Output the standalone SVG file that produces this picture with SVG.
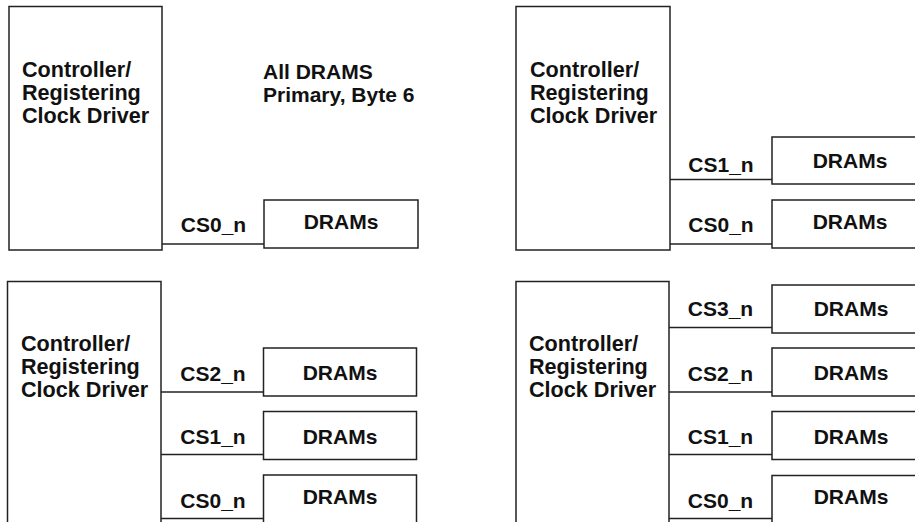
<svg xmlns="http://www.w3.org/2000/svg" width="915" height="522" viewBox="0 0 915 522">
<style>
rect{fill:#fff;stroke:#222;stroke-width:1.5}
line{stroke:#222;stroke-width:1.5}
text{font-family:"Liberation Sans",Arial,sans-serif;font-weight:bold;font-size:21px;fill:#111}
.m{text-anchor:middle}
.c{font-size:21.6px}
</style>
<rect x="0" y="0" width="915" height="522" style="stroke:none"/>
<g id="connectors">
<line x1="162" y1="244" x2="265" y2="244"/>
<line x1="670" y1="179.5" x2="773" y2="179.5"/>
<line x1="670" y1="244" x2="773" y2="244"/>
<line x1="161" y1="392" x2="264.5" y2="392"/>
<line x1="161" y1="454.5" x2="264.5" y2="454.5"/>
<line x1="161" y1="518.5" x2="264.5" y2="518.5"/>
<line x1="669" y1="327.5" x2="773" y2="327.5"/>
<line x1="669" y1="392" x2="773" y2="392"/>
<line x1="669" y1="454.5" x2="773" y2="454.5"/>
<line x1="669" y1="518.5" x2="773" y2="518.5"/>
</g>
<g id="labels">
<text x="263" y="79">All DRAMS</text>
<text x="263" y="102">Primary, Byte 6</text>
<text class="m" x="213.5" y="232">CS0_n</text>
<text class="m" x="721" y="172">CS1_n</text>
<text class="m" x="721" y="232">CS0_n</text>
<text class="m" x="213" y="381">CS2_n</text>
<text class="m" x="213" y="443.5">CS1_n</text>
<text class="m" x="213" y="507.5">CS0_n</text>
<text class="m" x="720.5" y="316">CS3_n</text>
<text class="m" x="720.5" y="381">CS2_n</text>
<text class="m" x="720.5" y="443.5">CS1_n</text>
<text class="m" x="720.5" y="507.5">CS0_n</text>
</g>
<g id="ctrl-a">
<rect x="9" y="6.5" width="153" height="243.5"/>
<text class="c" x="22" y="77">Controller/</text>
<text class="c" x="22" y="100">Registering</text>
<text class="c" x="22" y="123">Clock Driver</text>
</g>
<g id="ctrl-b">
<rect x="516" y="6.5" width="154" height="243.5"/>
<text class="c" x="530" y="77">Controller/</text>
<text class="c" x="530" y="100">Registering</text>
<text class="c" x="530" y="123">Clock Driver</text>
</g>
<g id="ctrl-c">
<rect x="7.5" y="281.5" width="153.5" height="260"/>
<text class="c" x="21" y="351">Controller/</text>
<text class="c" x="21" y="374">Registering</text>
<text class="c" x="21" y="397">Clock Driver</text>
</g>
<g id="ctrl-d">
<rect x="516" y="281.5" width="153" height="260"/>
<text class="c" x="529" y="351">Controller/</text>
<text class="c" x="529" y="374">Registering</text>
<text class="c" x="529" y="397">Clock Driver</text>
</g>
<g id="dram-a0"><rect x="264" y="200" width="154" height="48"/><text class="m" x="341" y="229">DRAMs</text></g>
<g id="dram-b1"><rect x="772" y="137" width="154" height="47"/><text class="m" x="850" y="168">DRAMs</text></g>
<g id="dram-b0"><rect x="772" y="200" width="154" height="48"/><text class="m" x="850" y="229">DRAMs</text></g>
<g id="dram-c2"><rect x="263.5" y="348" width="153" height="48"/><text class="m" x="340" y="380">DRAMs</text></g>
<g id="dram-c1"><rect x="263.5" y="411.5" width="153" height="48"/><text class="m" x="340" y="443.5">DRAMs</text></g>
<g id="dram-c0"><rect x="263.5" y="475" width="153" height="48"/><text class="m" x="340" y="503.5">DRAMs</text></g>
<g id="dram-d3"><rect x="772" y="285" width="154" height="48"/><text class="m" x="851" y="316">DRAMs</text></g>
<g id="dram-d2"><rect x="772" y="348" width="154" height="48"/><text class="m" x="851" y="380">DRAMs</text></g>
<g id="dram-d1"><rect x="772" y="411.5" width="154" height="48"/><text class="m" x="851" y="443.5">DRAMs</text></g>
<g id="dram-d0"><rect x="772" y="475.5" width="154" height="48"/><text class="m" x="851" y="503.5">DRAMs</text></g>
</svg>
